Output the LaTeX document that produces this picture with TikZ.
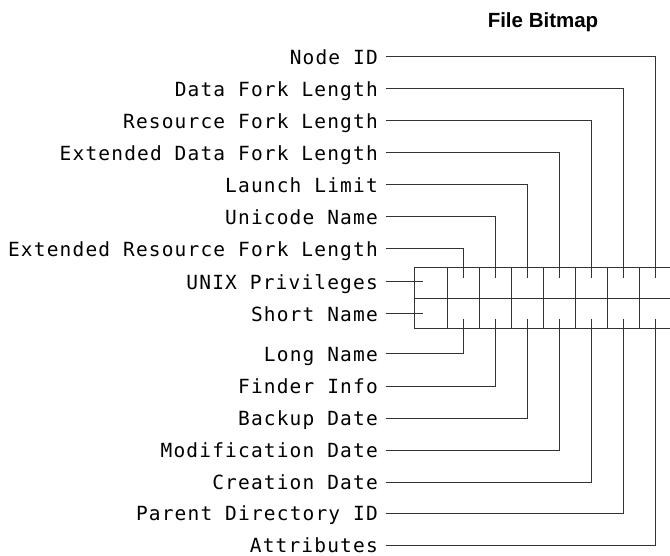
\documentclass[tikz,border=0pt]{standalone}
\usepackage{fontspec}
\setmainfont{Liberation Sans}
\newfontfamily\labfont[LetterSpace=6]{DejaVu Sans Mono}
\begin{document}
\begin{tikzpicture}[x=1pt,y=-1pt,
  lab/.style={font=\labfont\fontsize{19.5}{22}\selectfont, anchor=east, inner xsep=0pt, inner ysep=0pt, text height=14.2pt, text depth=0pt},
  wire/.style={draw=black!80, line width=1pt},
  ttl/.style={font=\bfseries\fontsize{20.5}{24}\selectfont, anchor=base, inner sep=0pt}]
\useasboundingbox (0,0) rectangle (670,556);
\node[ttl] (title) at (543,28) {File Bitmap};
% box
\draw[wire] (414,268) -- (672,268);
\draw[wire] (414,299) -- (672,299);
\draw[wire] (414,329) -- (672,329);
\draw[wire] (414,268) -- (414,329);
\foreach \x in {447,479,511,543,575,607,639} \draw[wire] (\x,268) -- (\x,329);
% top labels
\foreach \n/\t/\y/\x in {nid/Node ID/57/655, dfl/Data Fork Length/89/623, rfl/Resource Fork Length/121/591, edfl/Extended Data Fork Length/153/559, ll/Launch Limit/185/527, un/Unicode Name/217/495, erfl/Extended Resource Fork Length/249/463} {
  \node[lab] (\n) at (378,\y) {\t};
  \coordinate (\n-end) at (\x,278);
  \draw[wire] ([xshift=8pt]\n.east) -| (\n-end);
}
% row labels
\node[lab] (unix) at (378,282) {UNIX Privileges};
\node[lab] (short) at (378,314) {Short Name};
\coordinate (unix-end) at (423,282);
\coordinate (short-end) at (423,314);
\draw[wire] ([xshift=8pt]unix.east) -- (unix-end);
\draw[wire] ([xshift=8pt]short.east) -- (short-end);
% bottom labels
\foreach \n/\t/\y/\x in {ln/Long Name/354/463, fi/Finder Info/386/495, bd/Backup Date/418/527, md/Modification Date/450/559, cd/Creation Date/482/591, pd/Parent Directory ID/513/623, at/Attributes/545/655} {
  \node[lab] (\n) at (378,\y) {\t};
  \coordinate (\n-end) at (\x,319);
  \draw[wire] ([xshift=8pt]\n.east) -| (\n-end);
}
\end{tikzpicture}
\end{document}
